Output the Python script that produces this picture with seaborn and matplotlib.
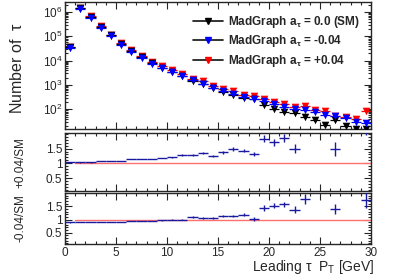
import numpy as np
import pandas as pd
import seaborn as sns
import matplotlib
matplotlib.use("Agg")
import matplotlib.pyplot as plt
from matplotlib.ticker import LogLocator, MultipleLocator, FixedLocator, NullFormatter
from matplotlib.lines import Line2D

# bin centres of leading tau pT [GeV]
pt = [0.5, 1.5, 2.5, 3.5, 4.5, 5.5, 6.5, 7.5, 8.5, 9.5,
      10.5, 11.5, 12.5, 13.5, 14.5, 15.5, 16.5, 17.5, 18.5, 19.5,
      20.5, 21.5, 22.5, 23.5, 24.5, 25.5, 26.5, 27.5, 28.5, 29.5]

# number of taus per bin
n_sm = [37000, 1.48e6, 6.4e5, 2.46e5, 1.09e5, 4.9e4, 2.49e4, 1.36e4, 7900, 4950,
        3330, 2300, 1410, 1060, 736, 500, 380, 280, 258, 145,
        103, 78, 72, 50, 35, 23, 36, 20, 15, 16]
n_minus = [33000, 1.32e6, 5.75e5, 2.24e5, 1.0e5, 4.57e4, 2.34e4, 1.29e4, 7600, 4800,
           3300, 2300, 1550, 1120, 780, 560, 430, 330, 263, 209,
           158, 123, 100, 89, 76, 56, 51, 45, 30, 27]
n_plus = [38100, 1.52e6, 6.6e5, 2.66e5, 1.18e5, 5.3e4, 2.86e4, 1.56e4, 9090, 5840,
          4000, 2940, 1800, 1430, 913, 685, 562, 400, 338, 265,
          200, 160, 123, 132, 95, 85, 54, 50, 40, 85]

# ratios to SM
r_plus = [1.03, 1.03, 1.03, 1.08, 1.08, 1.08, 1.15, 1.15, 1.15, 1.18,
          1.20, 1.28, 1.28, 1.35, 1.24, 1.37, 1.48, 1.43, 1.31, 1.83,
          1.71, 1.85, 1.49, 2.6, 2.7, 3.7, 1.49, 2.5, 2.7, 2.3]
r_plus_err = [0.005, 0.003, 0.003, 0.004, 0.005, 0.006, 0.008, 0.01, 0.012, 0.015,
              0.02, 0.025, 0.03, 0.035, 0.04, 0.05, 0.06, 0.06, 0.07, 0.12,
              0.12, 0.13, 0.15, 0.25, 0.3, 0.4, 0.25, 0.4, 0.4, 0.35]
r_minus = [0.89, 0.89, 0.89, 0.91, 0.91, 0.91, 0.95, 0.95, 0.95, 0.97,
           1.0, 1.0, 1.10, 1.06, 1.06, 1.12, 1.13, 1.18, 1.02, 1.44,
           1.53, 1.57, 1.38, 1.78, 2.6, 2.5, 1.41, 2.6, 2.7, 1.74]
r_minus_err = [0.005, 0.003, 0.003, 0.004, 0.005, 0.006, 0.008, 0.01, 0.012, 0.015,
               0.02, 0.025, 0.03, 0.035, 0.04, 0.04, 0.05, 0.05, 0.06, 0.1,
               0.1, 0.1, 0.12, 0.19, 0.25, 0.3, 0.19, 0.3, 0.3, 0.3]

labels = ["MadGraph a$_\\tau$ = 0.0 (SM)",
          "MadGraph a$_\\tau$ = -0.04",
          "MadGraph a$_\\tau$ = +0.04"]

df = pd.DataFrame({"pt": pt, "SM": n_sm, "minus": n_minus, "plus": n_plus})

sns.set_style("ticks")
plt.rcParams["font.family"] = ["Liberation Sans", "DejaVu Sans"]
plt.rcParams["mathtext.default"] = "regular"

fig = plt.figure(figsize=(3.99, 2.76), dpi=100)
ax = fig.add_axes([0.163, 0.534, 0.767, 0.459])
ax1 = fig.add_axes([0.163, 0.308, 0.767, 0.209])
ax2 = fig.add_axes([0.163, 0.115, 0.767, 0.187])

# main panel: draw red, black, then blue on top
for col, c, z in [("plus", "red", 2), ("SM", "black", 3), ("minus", "blue", 4)]:
    ax.errorbar(df["pt"], df[col], xerr=0.5, fmt="none", ecolor=c, elinewidth=0.9,
                zorder=z)
    sns.scatterplot(x="pt", y=col, data=df, ax=ax, marker="v", color=c, s=30,
                    edgecolor=c, linewidth=0, zorder=z + 0.5)

ax.set_yscale("log")
ax.set_ylim(16, 2.6e6)
ax.set_xlim(0, 30)
ax.set_xlabel("")
ax.set_ylabel("Number of  $\\tau$", fontsize=11.5)
ax.yaxis.set_label_coords(-0.13, 0.48)
ax.yaxis.set_major_locator(LogLocator(base=10, numticks=10))
ax.yaxis.set_minor_locator(LogLocator(base=10, subs=np.arange(2, 10), numticks=10))
ax.yaxis.set_minor_formatter(NullFormatter())
ax.set_xticklabels([])

handles = [Line2D([], [], color="#101010", marker="v", ms=4.5, lw=1.2,
                  markerfacecolor=c, markeredgecolor=c)
           for c in ["black", "blue", "red"]]
ax.legend(handles, labels, loc="upper right", bbox_to_anchor=(1.0, 0.99),
          frameon=False, prop={"weight": "bold", "size": 8.5},
          handlelength=2.5, labelspacing=0.3, handletextpad=0.5)

# ratio panels
for a, r, e, lab in [(ax1, r_plus, r_plus_err, "+0.04/SM"),
                     (ax2, r_minus, r_minus_err, "-0.04/SM")]:
    a.errorbar(pt, r, xerr=0.5, yerr=e, fmt="none", ecolor="#1a1aa0",
               elinewidth=1.0, zorder=3)
    a.plot([1, 30], [1, 1], color="#ff7070", lw=1.0, zorder=2)
    a.set_xlim(0, 30)
    a.set_ylim(0.06, 2.02)
    a.yaxis.set_major_locator(FixedLocator([0.5, 1.0, 1.5]))
    a.yaxis.set_minor_locator(MultipleLocator(0.1))
    a.yaxis.set_major_formatter(plt.FuncFormatter(lambda v, p: f"{v:g}"))
    a.set_ylabel(lab, fontsize=8.5)
    a.yaxis.set_label_coords(-0.125, 0.5)

ax1.set_xticklabels([])
ax2.set_xlabel("Leading $\\tau$  P$_{T}$ [GeV]", fontsize=10, loc="right")
ax2.xaxis.set_label_coords(1.01, -0.27)

for a in (ax, ax1, ax2):
    a.xaxis.set_major_locator(MultipleLocator(5))
    a.xaxis.set_minor_locator(MultipleLocator(1))
    a.tick_params(which="both", direction="in", top=True, right=True,
                  labelsize=8.5, width=0.8, pad=2)
    a.tick_params(which="major", length=5)
    a.tick_params(which="minor", length=2.5)
    for s in a.spines.values():
        s.set_linewidth(1.0)

fig.savefig("out.png", dpi=100)
